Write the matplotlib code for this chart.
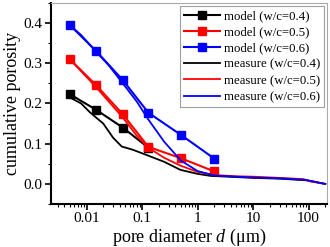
import numpy as np
import matplotlib.pyplot as plt
from matplotlib.ticker import LogLocator, NullFormatter, MultipleLocator

plt.rcParams['font.family'] = ['Liberation Serif', 'DejaVu Serif']
plt.rcParams['mathtext.fontset'] = 'custom'
plt.rcParams['mathtext.it'] = 'Liberation Serif:italic'
plt.rcParams['mathtext.rm'] = 'Liberation Serif'

# model points
d_model = [0.005, 0.015, 0.045, 0.13, 0.5, 2.0]
d_model_04 = [0.005, 0.015, 0.045, 0.13]
model_04 = [0.223, 0.184, 0.140, 0.090]
model_05 = [0.310, 0.245, 0.173, 0.092, 0.064, 0.031]
model_06 = [0.395, 0.330, 0.258, 0.177, 0.122, 0.063]

# measured curves
d_m04 = [0.005, 0.008, 0.0115, 0.02, 0.03, 0.043, 0.068, 0.12, 0.25, 0.49, 1.0, 1.7, 5, 10, 30, 90, 200]
m04 = [0.215, 0.200, 0.178, 0.150, 0.115, 0.093, 0.085, 0.072, 0.055, 0.035, 0.025, 0.020, 0.017, 0.015, 0.013, 0.009, 0.0]
d_m05 = [0.005, 0.008, 0.015, 0.025, 0.045, 0.08, 0.13, 0.25, 0.5, 1.0, 2.0, 5, 10, 30, 80, 110, 200]
m05 = [0.310, 0.280, 0.240, 0.205, 0.165, 0.120, 0.090, 0.065, 0.045, 0.030, 0.022, 0.019, 0.018, 0.015, 0.012, 0.006, 0.0]
d_m06 = [0.005, 0.008, 0.015, 0.025, 0.045, 0.08, 0.13, 0.25, 0.5, 1.0, 2.0, 5, 10, 30, 90, 200]
m06 = [0.395, 0.370, 0.328, 0.295, 0.250, 0.205, 0.160, 0.105, 0.058, 0.032, 0.021, 0.018, 0.016, 0.014, 0.010, 0.0]

fig = plt.figure(figsize=(3.3, 2.47), dpi=100)
ax = fig.add_axes([0.155, 0.174, 0.836, 0.814])

ax.plot(d_model_04, model_04, '-s', color='black', lw=1.5, ms=5.5, label='model (w/c=0.4)')
ax.plot(d_model, model_05, '-s', color='red', lw=1.5, ms=5.5, label='model (w/c=0.5)')
ax.plot(d_model, model_06, '-s', color='blue', lw=1.5, ms=5.5, label='model (w/c=0.6)')
ax.plot(d_m04, m04, '-', color='black', lw=1.3, label='measure (w/c=0.4)')
ax.plot(d_m05, m05, '-', color='red', lw=1.3, label='measure (w/c=0.5)')
ax.plot(d_m06, m06, '-', color='blue', lw=1.3, label='measure (w/c=0.6)')

ax.set_xscale('log')
ax.set_xlim(0.0023, 215)
ax.set_ylim(-0.05, 0.45)
ax.xaxis.set_minor_locator(LogLocator(base=10, subs=np.arange(2, 10), numticks=20))
ax.xaxis.set_minor_formatter(NullFormatter())
ax.set_xticks([0.01, 0.1, 1, 10, 100])
ax.set_xticklabels(['0.01', '0.1', '1', '10', '100'])
ax.yaxis.set_major_locator(MultipleLocator(0.1))
ax.yaxis.set_minor_locator(MultipleLocator(0.05))
ax.yaxis.set_major_formatter(plt.FormatStrFormatter('%.1f'))

ax.tick_params(which='major', direction='out', length=4, width=1.2, labelsize=11, pad=2)
ax.tick_params(which='minor', direction='out', length=2, width=0.8)
ax.tick_params(top=False, right=False)
for s in ['left', 'bottom']:
    ax.spines[s].set_linewidth(1.5)
for s in ['top', 'right']:
    ax.spines[s].set_color('#aaaaaa')
    ax.spines[s].set_linewidth(0.8)

ax.set_xlabel(r'pore diameter $d$ ($\mathrm{\mu}$m)', fontsize=13, labelpad=1)
ax.set_ylabel('cumulative porosity', fontsize=13, labelpad=2)

leg = ax.legend(loc='upper right', fontsize=9.2, frameon=True, fancybox=False,
                edgecolor='#888888', handlelength=2.8, handletextpad=0.3,
                borderpad=0.3, labelspacing=0.33, borderaxespad=0.25)
leg.get_frame().set_linewidth(0.8)

fig.savefig('out.png', dpi=100)
